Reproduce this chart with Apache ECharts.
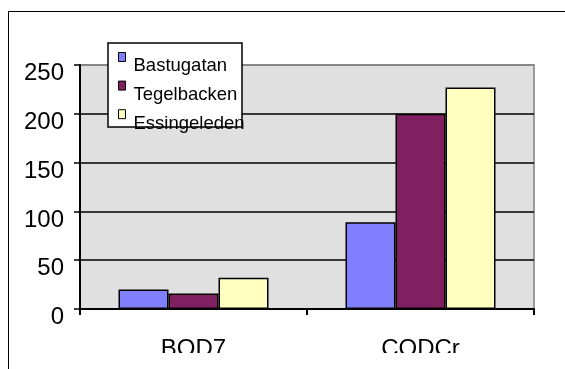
<!DOCTYPE html>
<html>
<head>
<meta charset="utf-8">
<script src="https://cdn.jsdelivr.net/npm/echarts@6/dist/echarts.min.js"></script>
<style>
  html, body { margin: 0; padding: 0; background: #fff; width: 565px; height: 369px; overflow: hidden; }
  #frame { position: absolute; left: 8px; top: 11px; width: 700px; height: 500px; border-left: 1px solid #000; border-top: 1px solid #000; }
  #chart { position: absolute; left: 0; top: 0; width: 565px; height: 353px; }
</style>
</head>
<body>
<div id="frame"></div>
<div id="chart"></div>
<script>
const categories = ['BOD7', 'CODCr'];
const seriesNames = ['Bastugatan', 'Tegelbacken', 'Essingeleden'];
const bastugatan = [20, 89];
const tegelbacken = [16, 200];
const essingeleden = [32, 227];
const yTicks = [0, 50, 100, 150, 200, 250];

const colors = ['#8080FF', '#802060', '#FFFFC0'];
const values = [bastugatan, tegelbacken, essingeleden];
const font = 'Liberation Sans, Arial, sans-serif';

const chart = echarts.init(document.getElementById('chart'), null, { renderer: 'canvas' });
const iconPath = 'path://M0,0L7,0L7,9L0,9Z M0,27.6L0.001,27.6';

chart.setOption({
  backgroundColor: 'transparent',
  animation: false,
  grid: {
    left: 80, right: 31, top: 65, bottom: 44,
    containLabel: false, outerBoundsMode: 'none',
    show: true, backgroundColor: '#E0E0E0', borderColor: '#808080', borderWidth: 1.5
  },
  graphic: [{
    type: 'rect', z: 3, zlevel: 0,
    shape: { x: 108, y: 43, width: 134, height: 84 },
    style: { fill: '#fff', stroke: '#000', lineWidth: 1.5 }
  }],
  legend: {
    orient: 'vertical', left: 108, top: 43,
    padding: [9, 5, 0, 10],
    itemGap: 0, itemWidth: 7, itemHeight: 27.6,
    icon: iconPath,
    itemStyle: { borderColor: '#000', borderWidth: 1 },
    textStyle: { fontFamily: font, fontSize: 18.5, color: '#000', padding: [4, 0, 0, 3] },
    data: seriesNames,
    z: 5
  },
  xAxis: {
    type: 'category', data: categories,
    axisLine: { lineStyle: { color: '#000', width: 2 } },
    axisTick: { show: true, alignWithLabel: false, length: 6, lineStyle: { color: '#000', width: 2 } },
    axisLabel: { fontFamily: font, fontSize: 24, color: '#000', margin: 28 },
    splitLine: { show: false }
  },
  yAxis: {
    type: 'value', min: 0, max: 250, interval: 50,
    axisLine: { show: true, lineStyle: { color: '#000', width: 2 } },
    axisTick: { show: true, length: 6, lineStyle: { color: '#000', width: 1.5 } },
    axisLabel: { fontFamily: font, fontSize: 24, color: '#000', margin: 16, verticalAlign: 'top', lineHeight: 17,
      formatter: v => yTicks.includes(v) ? String(v) : '' },
    splitLine: { show: true, lineStyle: { color: ['#000', '#000', '#000', '#000', '#000', '#808080'], width: 1.5 } }
  },
  series: seriesNames.map((name, i) => ({
    name: name,
    type: 'bar',
    data: values[i],
    barWidth: 50,
    barGap: '0%',
    itemStyle: { color: colors[i], borderColor: '#000', borderWidth: 1.5 }
  }))
});
</script>
</body>
</html>
